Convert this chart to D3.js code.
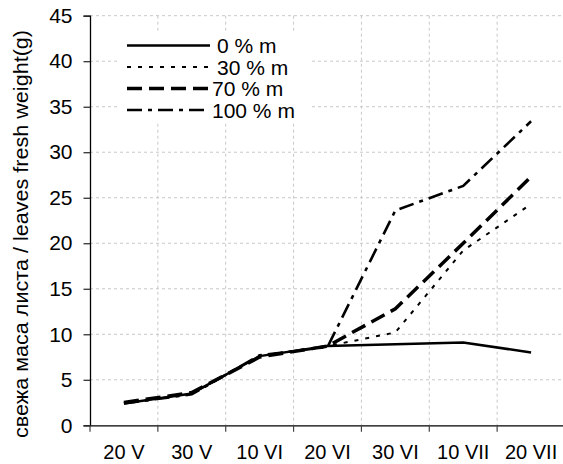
<!DOCTYPE html>
<html lang="en">
  <head>
    <meta charset="UTF-8" />
    <title>Leaves fresh weight</title>
    <style>
      body {
        margin: 0;
        padding: 0;
        background-color: #ffffff;
        font-family: "Liberation Sans", Arial, sans-serif;
      }
      #plot {
        width: 563px;
        height: 464px;
      }
    </style>
  </head>
  <body>
    <div id="plot"></div>

    <script src="https://d3js.org/d3.v7.min.js"></script>
    <script>
      const dates = ["20 V", "30 V", "10 VI", "20 VI", "30 VI", "10 VII", "20 VII"];
      const yTicks = [0, 5, 10, 15, 20, 25, 30, 35, 40, 45];
      const seriesNames = ["0 % m", "30 % m", "70 % m", "100 % m"];
      const m0 = [2.4, 3.5, 7.6, 8.7, 8.9, 9.1, 8.0];
      const m30 = [2.5, 3.5, 7.6, 8.7, 10.2, 19.2, 24.3];
      const m70 = [2.5, 3.6, 7.5, 8.7, 12.8, 20.0, 27.3];
      const m100 = [2.4, 3.4, 7.7, 8.6, 23.6, 26.3, 33.4];

      const series = [m0, m30, m70, m100];
      const styles = [
        { dash: null, width: 2.5 },
        { dash: "4,7", width: 2 },
        { dash: "15,7", width: 3.5 },
        { dash: "15,6,4,6", width: 2.6 },
      ];

      const width = 563,
        height = 464;
      const plotLeft = 90,
        plotTop = 15.7,
        plotBottom = 425.3,
        plotRight = 565;
      const fontSize = 21;

      const svg = d3
        .select("#plot")
        .append("svg")
        .attr("width", width)
        .attr("height", height);

      const x = d3.scaleBand().domain(dates).range([plotLeft, plotRight]);
      const y = d3.scaleLinear().domain([0, 45]).range([plotBottom, plotTop]);

      // grid
      svg
        .append("g")
        .selectAll("line")
        .data(yTicks.slice(1))
        .enter()
        .append("line")
        .attr("x1", plotLeft)
        .attr("x2", width)
        .attr("y1", (d) => y(d))
        .attr("y2", (d) => y(d))
        .attr("stroke", "#c8c8c8")
        .attr("stroke-dasharray", "3,3");

      svg
        .append("g")
        .selectAll("line")
        .data(dates.slice(1))
        .enter()
        .append("line")
        .attr("x1", (d) => x(d))
        .attr("x2", (d) => x(d))
        .attr("y1", plotTop)
        .attr("y2", plotBottom)
        .attr("stroke", "#c8c8c8")
        .attr("stroke-dasharray", "3,3");

      // axes
      const yAxis = svg
        .append("g")
        .attr("transform", `translate(${plotLeft},0)`)
        .call(d3.axisLeft(y).tickValues(yTicks).tickSize(6.5).tickPadding(11));
      yAxis.select(".domain").attr("stroke", "#000").attr("stroke-width", 1.3);
      yAxis.selectAll(".tick line").attr("stroke", "#222").attr("stroke-width", 1.2);
      yAxis
        .selectAll("text")
        .attr("font-size", fontSize)
        .attr("font-family", "Liberation Sans, Arial, sans-serif")
        .attr("fill", "#000");

      const xAxis = svg
        .append("g")
        .attr("transform", `translate(0,${plotBottom})`)
        .call(d3.axisBottom(x).tickSize(0).tickPadding(19.5));
      xAxis.select(".domain").attr("stroke", "#000").attr("stroke-width", 1.3);
      xAxis
        .selectAll("text")
        .attr("font-size", 20)
        .attr("font-family", "Liberation Sans, Arial, sans-serif")
        .attr("fill", "#000");

      // x ticks on band boundaries
      svg
        .append("g")
        .selectAll("line")
        .data(dates)
        .enter()
        .append("line")
        .attr("x1", (d) => x(d))
        .attr("x2", (d) => x(d))
        .attr("y1", plotBottom)
        .attr("y2", plotBottom + 6.5)
        .attr("stroke", "#444")
        .attr("stroke-width", 1.2);

      // y title
      svg
        .append("text")
        .attr("transform", "translate(27.5,234) rotate(-90)")
        .attr("text-anchor", "middle")
        .attr("font-size", fontSize)
        .attr("textLength", 408)
        .attr("lengthAdjust", "spacingAndGlyphs")
        .attr("fill", "#000")
        .text("свежа маса листа / leaves fresh weight(g)");

      // lines
      const line = d3
        .line()
        .x((d, i) => x(dates[i]) + x.bandwidth() / 2)
        .y((d) => y(d));

      series.forEach((s, i) => {
        svg
          .append("path")
          .datum(s)
          .attr("d", line)
          .attr("fill", "none")
          .attr("stroke", "#000")
          .attr("stroke-width", styles[i].width)
          .attr("stroke-dasharray", styles[i].dash);
      });

      // legend
      const legend = svg.append("g");
      legend
        .append("rect")
        .attr("x", 118)
        .attr("y", 33)
        .attr("width", 192)
        .attr("height", 90)
        .attr("fill", "#fff");
      seriesNames.forEach((name, i) => {
        const ly = 45.5 + i * 21.5;
        legend
          .append("line")
          .attr("x1", 127)
          .attr("x2", 210)
          .attr("y1", ly)
          .attr("y2", ly)
          .attr("stroke", "#000")
          .attr("stroke-width", styles[i].width)
          .attr("stroke-dasharray", styles[i].dash);
        legend
          .append("text")
          .attr("x", i < 2 ? 217 : 212)
          .attr("y", ly + 7.5)
          .attr("font-size", fontSize)
          .attr("fill", "#000")
          .text(name);
      });
    </script>
  </body>
</html>
